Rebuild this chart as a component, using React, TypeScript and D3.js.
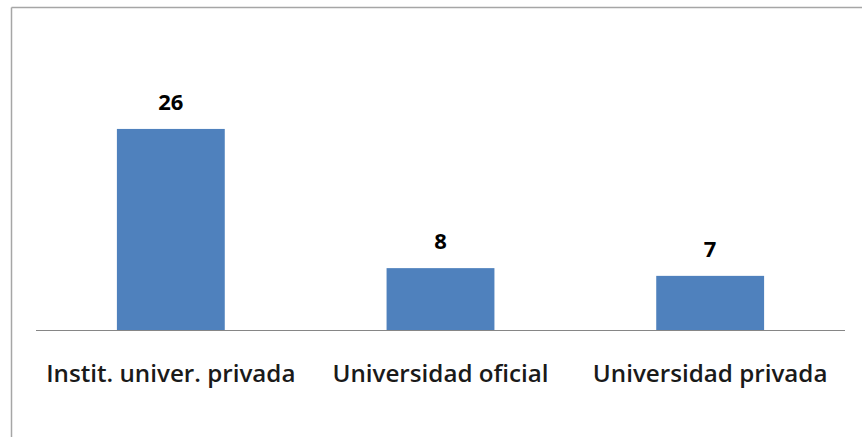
import { useEffect } from "react"
import * as d3 from "d3"

const categories = ["Instit. univer. privada", "Universidad oficial", "Universidad privada"]
const values = [26, 8, 7]

const W = 862
const H = 437
const margin = { top: 98, right: 17, bottom: 107, left: 36 }

export default function App() {
  useEffect(() => {
    document.body.style.margin = "0"
  }, [])

  const x = d3
    .scaleBand<string>()
    .domain(categories)
    .range([margin.left, W - margin.right])
    .paddingInner(0.6)
    .paddingOuter(0.3)
  const y = d3.scaleLinear().domain([0, 30]).range([H - margin.bottom, margin.top])

  const baseY = y(0)
  const font = "'Open Sans', Calibri, sans-serif"

  return (
    <svg width={W} height={H} style={{ display: "block", background: "#fff" }}>
      {/* chart border */}
      <line x1={11.5} y1={7.5} x2={W} y2={7.5} stroke="#a6a6a6" strokeWidth={1.5} />
      <line x1={11.5} y1={7.5} x2={11.5} y2={H} stroke="#a6a6a6" strokeWidth={1.5} />

      {categories.map((c, i) => (
        <g key={c}>
          <rect
            x={x(c)}
            y={y(values[i])}
            width={x.bandwidth()}
            height={baseY - y(values[i])}
            fill="#4f81bd"
          />
          <text
            x={(x(c) ?? 0) + x.bandwidth() / 2}
            y={y(values[i]) - 19}
            textAnchor="middle"
            fontFamily={font}
            fontWeight={700}
            fontSize={22}
            fill="#000"
          >
            {values[i]}
          </text>
          <text
            x={(x(c) ?? 0) + x.bandwidth() / 2}
            y={382}
            textAnchor="middle"
            fontFamily={font}
            fontWeight={600}
            fontSize={24.2}
            fill="#1a1a1a"
          >
            {c}
          </text>
        </g>
      ))}

      {/* category axis */}
      <line x1={margin.left} x2={W - margin.right} y1={baseY + 0.5} y2={baseY + 0.5} stroke="#868686" strokeWidth={1.2} />
    </svg>
  )
}
